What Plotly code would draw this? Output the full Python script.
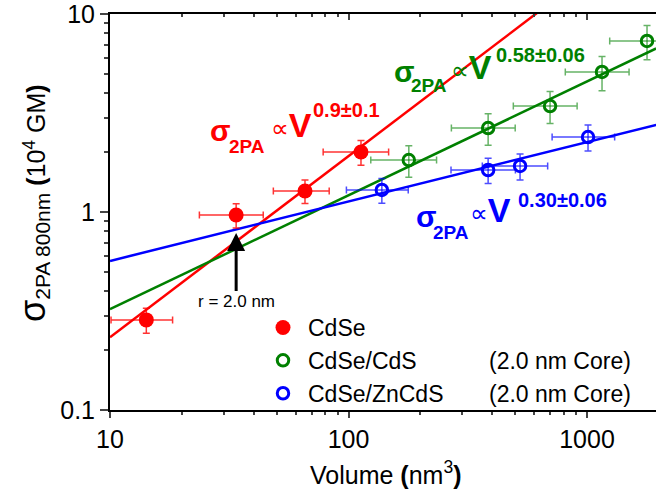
import math
import plotly.graph_objects as go

FONT = "Liberation Sans, Arial, sans-serif"

# ---------------- data ----------------
cdse_vol = [14.2, 33.8, 65.7, 112.8]
cdse_sigma = [0.285, 0.966, 1.277, 2.01]
cdse_vol_err = [4.1, 10.1, 17.3, 34.5]
cdse_sigma_err = [0.041, 0.135, 0.172, 0.285]

cds_vol = [179, 385, 700, 1156, 1785]
cds_sigma = [1.83, 2.656, 3.43, 5.10, 7.31]
cds_vol_err = [55, 115, 209, 345, 540]
cds_sigma_err = [0.33, 0.48, 0.63, 1.0, 1.43]

zncds_vol = [138, 385, 524, 1010]
zncds_sigma = [1.292, 1.63, 1.708, 2.392]
zncds_vol_err = [40, 116, 160, 296]
zncds_sigma_err = [0.185, 0.236, 0.256, 0.359]

# power-law fits: sigma = s10 * (V/10)^b
fit_names = ["CdSe", "CdSe/CdS", "CdSe/ZnCdS"]
fit_s10 = [0.233, 0.323, 0.566]
fit_exp = [0.915, 0.575, 0.30]
fit_v_range = [10, 1950]

x_ticks = [10, 100, 1000]
y_ticks = [0.1, 1, 10]

RED = "#FF0000"
GREEN = "#008000"
BLUE = "#0000FF"
fit_colors = [RED, GREEN, BLUE]

fig = go.Figure()

# fit lines
for name, s10, b, c in zip(fit_names, fit_s10, fit_exp, fit_colors):
    xs = fit_v_range
    ys = [s10 * (v / 10) ** b for v in xs]
    fig.add_trace(go.Scatter(x=xs, y=ys, mode="lines", line=dict(color=c, width=2.5),
                             showlegend=False, hoverinfo="skip"))

def data_trace(name, x, y, xe, ye, color, errcolor, filled):
    if filled:
        marker = dict(symbol="circle", size=15, color=color, line=dict(width=0))
    else:
        marker = dict(symbol="circle-open", size=11.5, color=color, line=dict(width=3, color=color))
    return go.Scatter(
        x=x, y=y, mode="markers", name=name, marker=marker,
        error_x=dict(type="data", array=xe, color=errcolor, thickness=1.5, width=3.5),
        error_y=dict(type="data", array=ye, color=errcolor, thickness=1.5, width=3.5),
    )

fig.add_trace(data_trace("CdSe", cdse_vol, cdse_sigma, cdse_vol_err, cdse_sigma_err,
                         RED, "rgba(255,0,0,0.8)", True))
fig.add_trace(data_trace("CdSe/CdS", cds_vol, cds_sigma, cds_vol_err, cds_sigma_err,
                         GREEN, "rgba(0,128,0,0.6)", False))
fig.add_trace(data_trace("CdSe/ZnCdS", zncds_vol, zncds_sigma, zncds_vol_err, zncds_sigma_err,
                         BLUE, "rgba(0,0,255,0.7)", False))

# invisible helper trace so that the top (inward-ticked) axis is drawn
fig.add_trace(go.Scatter(x=cdse_vol, y=cdse_sigma, xaxis="x2", mode="markers",
                         marker=dict(opacity=0), showlegend=False, hoverinfo="skip"))

# ---------------- layout ----------------
L, R, T, B = 110, 0, 14, 88
W, H = 656, 498
PW, PH = W - L - R, H - T - B
XDEC = 238.5
x_range = [1, 1 + PW / XDEC]

def px2paper(px, py):
    return (px - L) / PW, (H - B - py) / PH

annotations = []

def piece(text, px, py, size, color, family=FONT):
    x, y = px2paper(px, py)
    annotations.append(dict(text=text, xref="paper", yref="paper",
                            x=x, y=y, xanchor="left", yanchor="middle", showarrow=False,
                            font=dict(size=size, color=color, family=family), borderpad=0))

PROP_V = ('<span style="font-family:DejaVu Sans;font-size:25px;font-weight:normal">∝</span>'
          '<b>V</b>')

def formula(color, sup, sig, sub, V, supp):
    piece("<b>σ</b>", sig[0], sig[1], 30, color)
    piece("<b>2PA</b>", sub[0], sub[1], 19, color)
    piece(PROP_V, V[0] - 21, V[1], 34, color)
    piece(f"<b>{sup}</b>", supp[0], supp[1], 20, color)

formula(RED, "0.9±0.1", (209, 130), (228, 146), (291, 125), (312, 110))
formula(GREEN, "0.58±0.06", (393, 71), (410, 86), (471, 67), (495, 55))
formula(BLUE, "0.30±0.06", (415, 216), (432, 232), (490, 210), (517, 200))

# r = 2.0 nm arrow
annotations.append(dict(text="r = 2.0 nm", x=math.log10(cdse_vol[1]), y=-0.106, xref="x", yref="y",
                        showarrow=True, ax=0, ay=69, arrowhead=2, arrowsize=1.2, arrowwidth=3,
                        arrowcolor="black", font=dict(size=17, color="black", family=FONT)))

# legend suffix texts
for py in (361, 394):
    x, y = px2paper(487, py)
    annotations.append(dict(text="(2.0 nm Core)", xref="paper", yref="paper", x=x, y=y,
                            xanchor="left", yanchor="middle", showarrow=False,
                            font=dict(size=23, color="black", family=FONT)))

# axis titles
x, y = px2paper(33, 203)
annotations.append(dict(
    text='<span style="font-size:36px">σ</span><sub><span style="font-size:21px">2PA 800nm</span></sub> <b>(</b>10<sup>4</sup> GM<b>)</b>',
    xref="paper", yref="paper", x=x, y=y, xanchor="center", yanchor="middle", textangle=-90,
    showarrow=False, font=dict(size=25, color="black", family=FONT)))
x, y = px2paper(385, 473)
annotations.append(dict(
    text='Volume <b>(</b>nm<sup>3</sup><b>)</b>',
    xref="paper", yref="paper", x=x, y=y, xanchor="center", yanchor="middle",
    showarrow=False, font=dict(size=25, color="black", family=FONT)))

lx0, ly0 = px2paper(258, 306)
fig.update_layout(
    width=W, height=H,
    margin=dict(l=L, r=R, t=T, b=B, pad=0),
    paper_bgcolor="white", plot_bgcolor="white",
    font=dict(family=FONT, color="black"),
    showlegend=True,
    legend=dict(x=lx0, y=ly0, xanchor="left", yanchor="top", bgcolor="rgba(0,0,0,0)",
                font=dict(size=23, family=FONT, color="black"), itemwidth=40),
    xaxis=dict(type="log", range=x_range, tickvals=x_ticks, ticktext=[str(v) for v in x_ticks],
               ticks="outside", ticklen=6, tickwidth=2, showline=True, linewidth=2, linecolor="black",
               showgrid=False, zeroline=False, tickfont=dict(size=25, family=FONT),
               ticklabeloverflow="allow",
               minor=dict(ticks="outside", ticklen=3, tickwidth=1.5, dtick="D1", showgrid=False)),
    xaxis2=dict(type="log", range=x_range, overlaying="x", side="top", anchor="y",
                ticks="inside", ticklen=6, tickwidth=2, showline=True, linewidth=2, linecolor="black",
                showgrid=False, zeroline=False, showticklabels=False, tickvals=x_ticks,
                minor=dict(ticks="inside", ticklen=3, tickwidth=1.5, dtick="D1", showgrid=False)),
    yaxis=dict(type="log", range=[-1.0002, 1.0002], tickvals=y_ticks, ticktext=["0.1", "1", "10"],
               ticks="outside", ticklen=8, tickwidth=2, showline=True, linewidth=2, linecolor="black",
               showgrid=False, zeroline=False, tickfont=dict(size=25, family=FONT),
               ticklabeloverflow="allow",
               minor=dict(ticks="outside", ticklen=4, tickwidth=1.5, dtick="D1", showgrid=False)),
    annotations=annotations,
)

fig.write_html("out.html", config={"displayModeBar": False},
               post_script="document.body.style.margin='0';")
